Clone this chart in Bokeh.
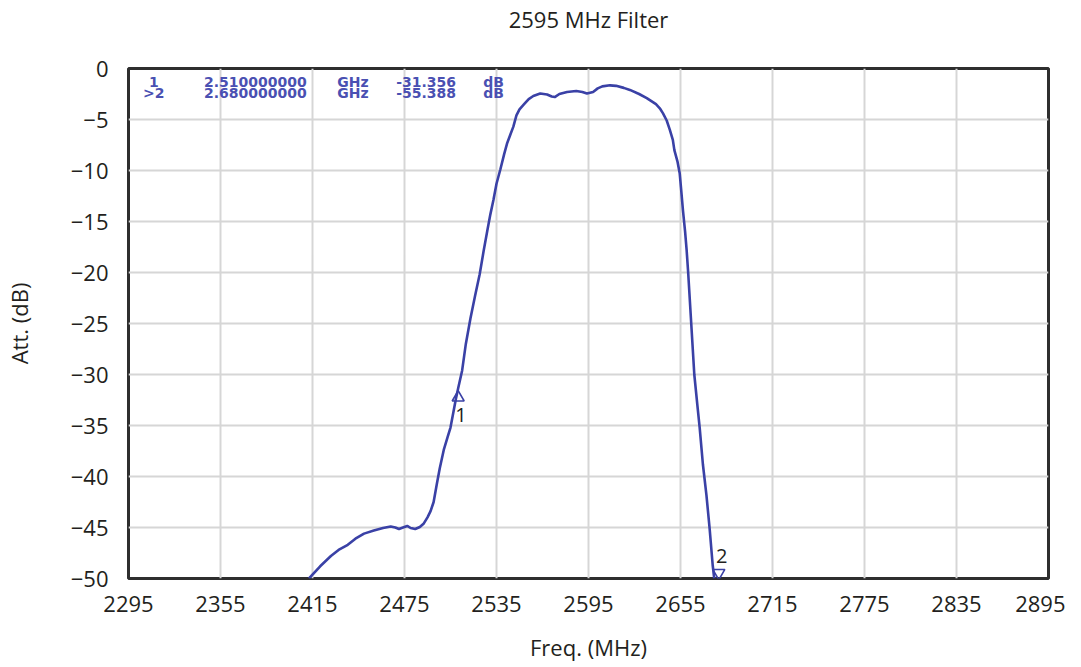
from bokeh.plotting import figure
from bokeh.models import FixedTicker, Label, LinearAxis
from bokeh.embed import file_html
from bokeh.resources import INLINE

# ---- data ----
freq_mhz = [2412.7, 2420, 2427, 2432, 2438, 2443, 2448.6, 2455, 2461, 2466, 2469, 2471.4,
            2474, 2476.8, 2479, 2482, 2485, 2487.6, 2490, 2492, 2494, 2496, 2498, 2500.6,
            2503, 2505, 2507, 2508.5, 2510, 2512.6, 2515, 2518, 2521, 2524, 2526.6, 2529,
            2531, 2533, 2535, 2537.5, 2540, 2542, 2544, 2546, 2548, 2550, 2553, 2556, 2559,
            2563.5, 2568, 2571, 2573, 2576, 2581, 2587, 2591, 2594, 2598, 2601, 2604, 2609,
            2613, 2618, 2622, 2628, 2633, 2636, 2639, 2641.5, 2643.6, 2646, 2648, 2650,
            2651, 2653, 2654.5, 2655.5, 2656.6, 2658, 2659, 2660, 2662, 2664, 2666, 2667.5,
            2669.6, 2671.9, 2674, 2676, 2677]
att_db = [-50.0, -48.8, -47.8, -47.2, -46.7, -46.1, -45.6, -45.3, -45.05, -44.9, -45.0, -45.15,
          -45.0, -44.85, -45.05, -45.15, -44.95, -44.6, -44.0, -43.4, -42.5, -40.8, -39.2, -37.4,
          -36.2, -35.2, -33.6, -32.4, -31.356, -29.6, -27.0, -24.5, -22.3, -20.2, -17.9, -15.9,
          -14.3, -12.9, -11.3, -9.9, -8.4, -7.3, -6.5, -5.7, -4.6, -4.0, -3.5, -3.0, -2.7,
          -2.45, -2.55, -2.75, -2.8, -2.5, -2.3, -2.2, -2.3, -2.45, -2.3, -1.95, -1.75, -1.65,
          -1.7, -1.9, -2.1, -2.5, -2.9, -3.2, -3.5, -3.9, -4.4, -5.1, -6.0, -7.0,
          -8.0, -9.1, -10.3, -12.0, -13.9, -16.0, -17.8, -20.0, -25.0, -30.0, -33.0, -35.2,
          -38.8, -41.8, -45.1, -48.7, -50.0]

x_ticks = [2295, 2355, 2415, 2475, 2535, 2595, 2655, 2715, 2775, 2835, 2895]
y_ticks = [0, -5, -10, -15, -20, -25, -30, -35, -40, -45, -50]

marker_ids = ["1", "2"]
marker_prefix = [" 1", ">2"]
marker_freq_mhz = [2510.0, 2680.0]
marker_att_db = [-31.356, -55.388]

title_text = "2595 MHz Filter"
x_label = "Freq. (MHz)"
y_label = "Att. (dB)"

# ---- styling ----
FONT = "Open Sans"
TXT = "#231f20"
CURVE = "#3a41a6"
READOUT = "#4a50b2"
X0, X1 = x_ticks[0], x_ticks[-1]
Y0, Y1 = y_ticks[-1], y_ticks[0]

p = figure(width=1065, height=672, output_backend="svg", toolbar_location=None,
           x_range=(X0, X1), y_range=(Y0, Y1),
           min_border_left=119, min_border_right=17, min_border_top=67, min_border_bottom=94)

p.background_fill_color = "white"
p.border_fill_color = "white"
p.outline_line_color = "#2e2e2e"
p.outline_line_width = 3

x_axis = p.below[0]
y_axis = p.left[0]

# chart title: carried by a tick-less axis above the frame
title_axis = LinearAxis(ticker=FixedTicker(ticks=[]), axis_label=title_text)
p.add_layout(title_axis, "above")

for ax, ticks, lab in ((x_axis, x_ticks, x_label), (y_axis, y_ticks, y_label),
                       (title_axis, [], title_text)):
    ax.ticker = FixedTicker(ticks=ticks)
    ax.axis_label = lab
    ax.axis_label_text_font = FONT
    ax.axis_label_text_font_size = "22px"
    ax.axis_label_text_font_style = "normal"
    ax.axis_label_text_color = TXT
    ax.major_label_text_font = FONT
    ax.major_label_text_font_size = "22px"
    ax.major_label_text_color = TXT
    ax.axis_line_color = None
    ax.major_tick_line_color = None
    ax.minor_tick_line_color = None
    ax.major_tick_in = 0
    ax.major_tick_out = 0
    ax.minor_tick_in = 0
    ax.minor_tick_out = 0

x_axis.major_label_standoff = 17
x_axis.axis_label_standoff = 17
y_axis.major_label_standoff = 20
y_axis.axis_label_standoff = 34
title_axis.major_label_standoff = 0
title_axis.axis_label_standoff = 35

p.xgrid.ticker = FixedTicker(ticks=x_ticks)
p.ygrid.ticker = FixedTicker(ticks=y_ticks)
for g in (p.xgrid[0], p.ygrid[0]):
    g.grid_line_color = "#d6d6d6"
    g.grid_line_width = 2

# trace
p.line(freq_mhz, att_db, line_color=CURVE, line_width=2.6)

# markers (off-scale markers are pinned to the bottom edge)
disp_y, shapes = [], []
for db in marker_att_db:
    if db < Y0:
        disp_y.append(Y0 + 0.55)
        shapes.append("inverted_triangle")
    else:
        disp_y.append(db - 0.9)
        shapes.append("triangle")
p.scatter(marker_freq_mhz, disp_y, marker=shapes, size=12, fill_color=None,
          line_color=CURVE, line_width=1.6)

for mid, f, yy, sh in zip(marker_ids, marker_freq_mhz, disp_y, shapes):
    dy = -1.7 if sh == "triangle" else 1.7
    p.add_layout(Label(x=f + 1.8, y=yy + dy, text=mid, text_font=FONT, text_font_size="20px",
                       text_color=TXT, text_align="center", text_baseline="middle"))

# marker readout (top-left of the screen)
col_x = [2311.5, 2377.7, 2441.4, 2489.1, 2533.1]
row_y = [-1.30, -2.42]
for r, (pre, f, db) in enumerate(zip(marker_prefix, marker_freq_mhz, marker_att_db)):
    tokens = [pre.strip(), f"{f / 1000:.9f}", "GHz", f"{db:.3f}", "dB"]
    for cx, tok in zip(col_x, tokens):
        p.add_layout(Label(x=cx, y=row_y[r], text=tok, text_font="DejaVu Sans",
                           text_font_size="14px", text_font_style="bold",
                           text_color=READOUT, text_align="center", text_baseline="middle"))

open("out.html", "w").write(file_html(p, INLINE))
